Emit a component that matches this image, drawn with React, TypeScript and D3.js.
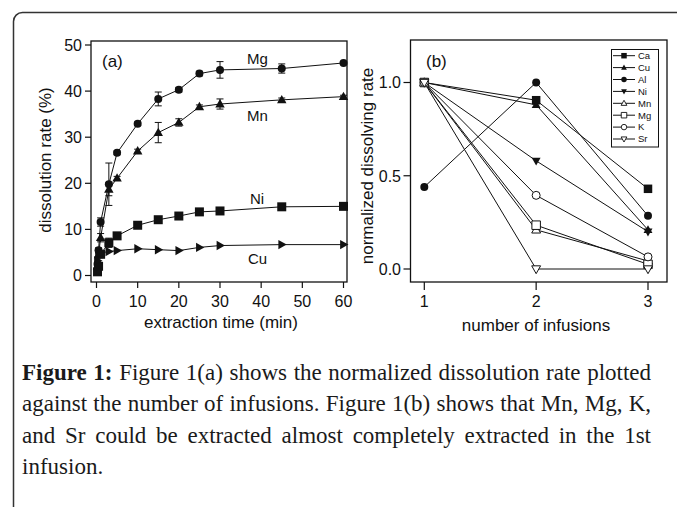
import React, { useEffect, useRef } from 'react';
import * as d3 from 'd3';

// panel (a): dissolution rate vs extraction time
const timesA = [0.25, 0.5, 1, 3, 5, 10, 15, 20, 25, 30, 45, 60];
const mgA = [2.5, 5.5, 11.6, 19.8, 26.6, 32.9, 38.3, 40.3, 43.8, 44.6, 44.9, 46.1];
const mgErr = [0.3, 0.5, 0.9, 4.6, 0.4, 0.4, 1.5, 0.5, 0.5, 1.8, 1.0, 0.3];
const mnA = [2.0, 4.5, 8.2, 18.7, 21.1, 27.0, 31.0, 33.2, 36.6, 37.2, 38.1, 38.8];
const mnErr = [0.3, 0.4, 0.9, 1.4, 0.4, 0.4, 2.2, 0.8, 0.4, 1.1, 0.4, 0.3];
const niA = [0.8, 2.0, 4.6, 7.1, 8.6, 10.9, 12.1, 12.9, 13.8, 14.0, 14.9, 15.0];
const niErr = [0.2, 0.3, 0.4, 1.0, 0.3, 0.3, 0.3, 0.3, 0.3, 0.3, 0.3, 0.3];
const cuA = [3.2, 4.2, 4.9, 5.2, 5.4, 5.8, 5.6, 5.4, 6.1, 6.5, 6.7, 6.7];
const ticksAX = [0, 10, 20, 30, 40, 50, 60];
const ticksAY = [0, 10, 20, 30, 40, 50];

// panel (b): normalized dissolving rate vs infusion number
const infusions = [1, 2, 3];
const elementsB = ['Ca', 'Cu', 'Al', 'Ni', 'Mn', 'Mg', 'K', 'Sr'];
const valuesB = [
  [1.0, 0.905, 0.43],
  [1.0, 0.88, 0.21],
  [0.44, 1.0, 0.285],
  [1.0, 0.58, 0.2],
  [1.0, 0.21, 0.043],
  [1.0, 0.235, 0.025],
  [1.0, 0.395, 0.065],
  [1.0, 0.0, 0.0],
];
const markersB = ['square', 'tri', 'circle', 'triDown', 'tri', 'square', 'circle', 'triDown'];
const openB = [false, false, false, false, true, true, true, true];
const ticksBY = [0, 0.5, 1];

const captionLines = [
  'Figure 1(a) shows the normalized dissolution rate plotted',
  'against the number of infusions. Figure 1(b) shows that Mn, Mg, K,',
  'and Sr could be extracted almost completely extracted in the 1st',
  'infusion.',
];

const sans = '"Liberation Sans", Arial, sans-serif';
const serif = '"Liberation Serif", "Times New Roman", serif';

function marker(shape: string, s: number): string {
  const h = s / 2;
  if (shape === 'square') return `M${-h},${-h}H${h}V${h}H${-h}Z`;
  if (shape === 'tri') return `M0,${-h * 1.1}L${h * 1.05},${h * 0.75}L${-h * 1.05},${h * 0.75}Z`;
  if (shape === 'triDown') return `M0,${h * 1.1}L${h * 1.05},${-h * 0.75}L${-h * 1.05},${-h * 0.75}Z`;
  if (shape === 'triRight') return `M${h * 1.1},0L${-h * 0.75},${h * 1.05}L${-h * 0.75},${-h * 1.05}Z`;
  return d3.symbol(d3.symbolCircle, Math.PI * h * h)() || '';
}

export default function App() {
  const capRef = useRef<SVGGElement>(null);

  useEffect(() => {
    document.body.style.margin = '0';
    if (!capRef.current) return;
    const target = 629;
    // justify the caption lines like the printed figure
    d3.select(capRef.current)
      .selectAll<SVGTextElement, unknown>('text.just')
      .each(function () {
        const len = this.getComputedTextLength();
        const spaces = (this.textContent || '').split(' ').length - 1;
        if (spaces > 0) d3.select(this).attr('word-spacing', (target - len) / spaces);
      });
  }, []);

  const xA = d3.scaleLinear().domain([0, 60]).range([96.5, 343.5]);
  const yA = d3.scaleLinear().domain([0, 50]).range([275.5, 45]);
  const xB = d3.scaleLinear().domain([1, 3]).range([424.3, 648]);
  const yB = d3.scaleLinear().domain([0, 1]).range([269, 82.5]);

  const lineA = d3
    .line<number>()
    .x((_, i) => xA(timesA[i]))
    .y((d) => yA(d));
  const lineB = d3
    .line<number>()
    .x((_, i) => xB(infusions[i]))
    .y((d) => yB(d));

  const seriesA = [
    { vals: mgA, err: mgErr, shape: 'circle', size: 8 },
    { vals: mnA, err: mnErr, shape: 'tri', size: 9 },
    { vals: niA, err: niErr, shape: 'square', size: 9 },
    { vals: cuA, err: null as number[] | null, shape: 'triRight', size: 9 },
  ];

  const frameA = { x0: 91, x1: 347, y0: 41, y1: 282 };
  const frameB = { x0: 410.5, x1: 667, y0: 40, y1: 282 };

  return (
    <svg width={677} height={507} style={{ display: 'block', background: '#fff' }}>
      <rect x={13.5} y={12.5} width={720} height={540} rx={9} fill="none" stroke="#333" strokeWidth={1.5} />

      {/* panel (a) */}
      <g fontFamily={sans} fill="#111">
        {seriesA.map((s, k) => (
          <g key={k}>
            <path d={lineA(s.vals) || ''} fill="none" stroke="#111" strokeWidth={1} />
            {s.err &&
              s.vals.map((v, i) => {
                const x = xA(timesA[i]);
                const e = s.err![i];
                return (
                  <g key={i} stroke="#111" strokeWidth={1}>
                    <line x1={x} x2={x} y1={yA(v - e)} y2={yA(v + e)} />
                    <line x1={x - 3.5} x2={x + 3.5} y1={yA(v - e)} y2={yA(v - e)} />
                    <line x1={x - 3.5} x2={x + 3.5} y1={yA(v + e)} y2={yA(v + e)} />
                  </g>
                );
              })}
            {s.vals.map((v, i) => (
              <path
                key={i}
                transform={`translate(${xA(timesA[i])},${yA(v)})`}
                d={marker(s.shape, s.size)}
                fill="#111"
              />
            ))}
          </g>
        ))}
        <rect
          x={frameA.x0}
          y={frameA.y0}
          width={frameA.x1 - frameA.x0}
          height={frameA.y1 - frameA.y0}
          fill="none"
          stroke="#111"
          strokeWidth={1.3}
        />
        {ticksAY.map((t) => (
          <g key={t}>
            <line x1={frameA.x0 - 6} x2={frameA.x0} y1={yA(t)} y2={yA(t)} stroke="#111" strokeWidth={1.2} />
            <text x={82} y={yA(t)} dy="0.36em" textAnchor="end" fontSize={16}>
              {t}
            </text>
          </g>
        ))}
        {ticksAX.map((t) => (
          <g key={t}>
            <line x1={xA(t)} x2={xA(t)} y1={frameA.y1} y2={frameA.y1 + 6} stroke="#111" strokeWidth={1.2} />
            <text x={xA(t)} y={307} textAnchor="middle" fontSize={16}>
              {t}
            </text>
          </g>
        ))}
        <text x={221} y={328} textAnchor="middle" fontSize={17}>
          extraction time (min)
        </text>
        <text transform="translate(51,160) rotate(-90)" textAnchor="middle" fontSize={17}>
          dissolution rate (%)
        </text>
        <text x={102} y={67} fontSize={17}>(a)</text>
        <text x={247} y={64} fontSize={15}>Mg</text>
        <text x={247} y={121} fontSize={15}>Mn</text>
        <text x={250} y={204} fontSize={15}>Ni</text>
        <text x={248} y={264} fontSize={15}>Cu</text>
      </g>

      {/* panel (b) */}
      <g fontFamily={sans} fill="#111">
        {valuesB.map((vals, k) => (
          <path key={k} d={lineB(vals) || ''} fill="none" stroke="#111" strokeWidth={1} />
        ))}
        {valuesB.map((vals, k) =>
          vals.map((v, i) => (
            <path
              key={`${k}-${i}`}
              transform={`translate(${xB(infusions[i])},${yB(v)})`}
              d={marker(markersB[k], markersB[k] === 'circle' ? 8 : 8.5)}
              fill={openB[k] ? '#fff' : '#111'}
              stroke="#111"
              strokeWidth={openB[k] ? 1 : 0}
            />
          ))
        )}
        <rect
          x={frameB.x0}
          y={frameB.y0}
          width={frameB.x1 - frameB.x0}
          height={frameB.y1 - frameB.y0}
          fill="none"
          stroke="#111"
          strokeWidth={1.3}
        />
        {ticksBY.map((t) => (
          <g key={t}>
            <line x1={frameB.x0 - 7} x2={frameB.x0} y1={yB(t)} y2={yB(t)} stroke="#111" strokeWidth={1.2} />
            <text x={401} y={yB(t)} dy="0.36em" textAnchor="end" fontSize={16}>
              {t.toFixed(1)}
            </text>
          </g>
        ))}
        {infusions.map((t) => (
          <g key={t}>
            <line x1={xB(t)} x2={xB(t)} y1={frameB.y1} y2={frameB.y1 + 8} stroke="#111" strokeWidth={1.2} />
            <text x={xB(t)} y={307} textAnchor="middle" fontSize={16}>
              {t}
            </text>
          </g>
        ))}
        <text x={536} y={331} textAnchor="middle" fontSize={17}>
          number of infusions
        </text>
        <text transform="translate(373,166) rotate(-90)" textAnchor="middle" fontSize={17}>
          normalized dissolving rate
        </text>
        <text x={426} y={67} fontSize={17}>(b)</text>

        {/* legend */}
        <rect x={611.5} y={49.5} width={47} height={97.5} fill="#fff" stroke="#111" strokeWidth={1} />
        {elementsB.map((el, k) => {
          const y = 55.7 + k * 11.9;
          return (
            <g key={el}>
              <line x1={613} x2={635} y1={y} y2={y} stroke="#111" strokeWidth={1} />
              <path
                transform={`translate(624,${y})`}
                d={marker(markersB[k], 5.5)}
                fill={openB[k] ? '#fff' : '#111'}
                stroke="#111"
                strokeWidth={openB[k] ? 0.9 : 0}
              />
              <text x={638} y={y} dy="0.35em" fontSize={9.5}>
                {el}
              </text>
            </g>
          );
        })}
      </g>

      {/* caption */}
      <g ref={capRef} fontFamily={serif} fontSize={23} fill="#1a1a1a">
        <text className="just" x={22} y={380}>
          <tspan fontWeight="bold">Figure 1:</tspan> {captionLines[0]}
        </text>
        {captionLines.slice(1).map((ln, i) => (
          <text key={i} className={i < 2 ? 'just' : ''} x={22} y={380 + (i + 1) * 31.3}>
            {ln}
          </text>
        ))}
      </g>
    </svg>
  );
}
